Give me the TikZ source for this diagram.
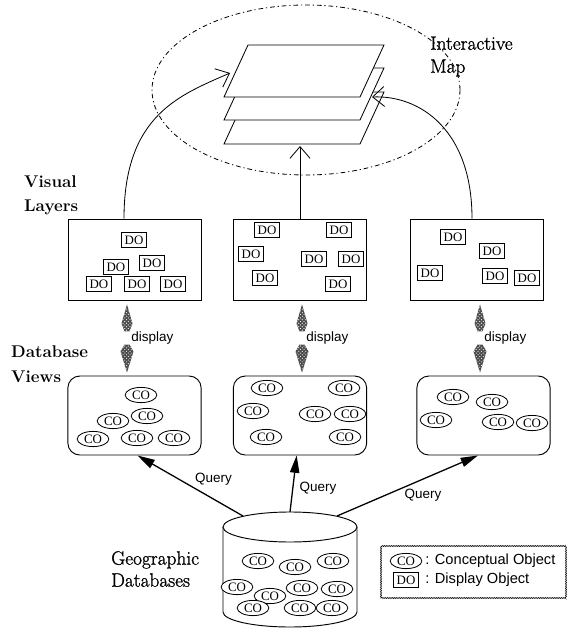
\documentclass[tikz,border=0pt]{standalone}
\usepackage{fontspec}
\newfontfamily\sansfnt{Liberation Sans}
\newfontfamily\serfnt{Liberation Serif}
\newfontfamily\medfnt{lmroman17-regular.otf}[FakeBold=1.2]
\usepackage{tikz}
\usetikzlibrary{shapes,arrows,arrows.meta,patterns,calc,decorations.pathmorphing}
\tikzstyle{layerbox} = [rectangle, draw, line width=0.8pt, minimum width=3.99cm, minimum height=2.43cm]
\tikzstyle{viewbox} = [rectangle, draw, rounded corners=0.36cm, line width=0.8pt, 
    minimum width=4.0cm, minimum height=2.37cm]
\tikzstyle{dobj} = [rectangle, draw, fill=white, line width=0.7pt, inner sep=1pt, 
    minimum width=22pt, minimum height=12.5pt, font=\serfnt\fontsize{11}{11}\selectfont]
\tikzstyle{cobj} = [ellipse, draw, fill=white, line width=0.7pt, inner sep=0pt, 
    minimum width=27pt, minimum height=13pt, font=\serfnt\fontsize{11}{11}\selectfont]
\tikzstyle{title} = [align=left, inner sep=0pt, font=\medfnt\fontsize{16.5}{19.6}\selectfont]
\tikzstyle{btitle} = [align=left, inner sep=0pt, font=\bfseries\fontsize{14.5}{21}\selectfont]
\tikzstyle{sheet} = [draw, fill=white, line width=0.7pt]
\tikzstyle{ring} = [draw, line width=0.7pt, dash pattern={on 4pt off 2.5pt on 1pt off 2.5pt}]
\tikzstyle{maparrow} = [draw, line width=0.7pt, -{Straight Barb[length=3.5mm,width=6mm]}]
\tikzstyle{line} = [draw, line width=1.1pt, -{Triangle[length=5.2mm,width=2.8mm]}]
\tikzstyle{disp} = [fill=black!70, postaction={pattern=crosshatch dots, pattern color=white}]
\tikzstyle{small} = [font=\sansfnt\fontsize{11.5}{12}\selectfont, inner sep=1pt]
\tikzstyle{legendframe} = [draw, line width=0.4pt, decorate, 
    decoration={zigzag, segment length=1.5pt, amplitude=0.5pt}]
\newcommand{\disparrow}[3]{%
    \coordinate (#1d) at ([xshift=#3]#1.south);
    \coordinate (#2d) at (#1d |- #2.north);
    \path[disp] ($(#1d)+(0,4)$) -- ++(5.5,19) -- ++(-3,8) -- ++(-5,0) -- ++(-3,-8) -- cycle;
    \path[disp] ($(#2d)+(-2.5,-31)$) -- ++(5,0) -- ++(4,7) -- ++(-6.5,21) -- ++(-6.5,-21) -- cycle;
    \node[small, anchor=west] (#1lab) at ($(#1d)!.5!(#2d)+(3,0)$) {display};
}

\begin{document}
\begin{tikzpicture}[x=0.03cm, y=-0.03cm, node distance=4.68cm, auto]
    \useasboundingbox (0,0) rectangle (574,629);

    \draw[ring] (306,90) ellipse [x radius=154, y radius=85];
    \foreach \dy in {47,23,0}
        \path[sheet] (224,97+\dy) -- (360,97+\dy) -- (384,45+\dy) -- (248,45+\dy) -- cycle;
    \coordinate (mapL) at (230,73);
    \coordinate (mapC) at (300,146);
    \coordinate (mapR) at (372,97);
    \node[title, anchor=west] (map) at (430,56.5) {Interactive\\Map};

    \node[layerbox] (vl1) at (134.5,259.5) {};
    \node[layerbox] (vl2) at (300,259.5) {};
    \node[layerbox] (vl3) at (476.5,259.5) {};
    \node[btitle, anchor=west] (vltitle) at (24,195.5) {Visual\\Layers};

    \node[viewbox, below of=vl1] (dv1) {};
    \node[viewbox, below of=vl2] (dv2) {};
    \node[viewbox, below of=vl3, xshift=0.21cm] (dv3) {};
    \node[btitle, anchor=west] (dvtitle) at (11,364) {Database\\Views};

    \foreach \x/\y [count=\i] in {134/240, 116/267, 152/263, 99/284, 137/284, 173/284}
        \node[dobj] (dl\i) at (\x,\y) {DO};
    \foreach \x/\y [count=\i] in {267/230, 339/230, 251/254, 314/259, 351/259, 265/278, 338/284}
        \node[dobj] (dm\i) at (\x,\y) {DO};
    \foreach \x/\y [count=\i] in {453/237, 492/251, 430/273, 495/276, 527/278}
        \node[dobj] (dr\i) at (\x,\y) {DO};

    \foreach \x/\y [count=\i] in {141/395, 113/421, 147/416, 93/439, 137/438, 174/438}
        \node[cobj] (cl\i) at (\x,\y) {CO};
    \foreach \x/\y [count=\i] in {267/388, 344/388, 253/411, 315/414, 350/414, 266/437, 345/437}
        \node[cobj] (cm\i) at (\x,\y) {CO};
    \foreach \x/\y [count=\i] in {453/397, 492/402, 436/420, 498/422, 532/423}
        \node[cobj] (cr\i) at (\x,\y) {CO};

    \draw[line width=0.8pt] (223,527) -- (223,612) arc[start angle=180, end angle=0, x radius=67, y radius=15] -- (357,527);
    \draw[line width=0.8pt] (290,527) ellipse [x radius=67, y radius=15];
    \coordinate (q1) at (243,516);
    \coordinate (q2) at (290,512);
    \coordinate (q3) at (337,516);
    \foreach \x/\y [count=\i] in {258/561, 295/567, 333/561, 237/587, 270/596, 302/588, 337/589, 253/608, 300/608, 332/608}
        \node[cobj] (cg\i) at (\x,\y) {CO};
    \node[title, anchor=west, font=\medfnt\fontsize{16.5}{18.8}\selectfont] (geotitle) at (111,569) {Geographic\\Databases};

    \path[maparrow] ([xshift=-0.315cm]vl1.north) .. controls (124,115) and (180,95) .. (mapL);
    \path[maparrow] (vl2.north) -- (mapC);
    \path[maparrow] ([xshift=-0.135cm]vl3.north) .. controls (472,130) and (420,95) .. (mapR);

    \disparrow{vl1}{dv1}{-0.225cm}
    \disparrow{vl2}{dv2}{0.06cm}
    \disparrow{vl3}{dv3}{0.105cm}

    \path[line] (q1) -- node[small, pos=.47, anchor=south west] (ql1) {Query} ([xshift=0.09cm]dv1.south);
    \path[line] (q2) -- node[small, pos=.42, anchor=west, xshift=0.15cm] (ql2) {Query} ([xshift=-0.1cm]dv2.south);
    \path[line] (q3) -- node[small, pos=.61, anchor=north, yshift=-0.25cm] (ql3) {Query} ([xshift=-0.165cm]dv3.south);

    \draw[legendframe] (381,546) rectangle (566,598);
    \node[cobj] (lco) at (406,561) {CO};
    \node[small, anchor=west, font=\sansfnt\fontsize{12.5}{12}\selectfont] (lcotxt) at (424,561) {: Conceptual Object};
    \node[dobj] (ldo) at (406,580) {DO};
    \node[small, anchor=west, font=\sansfnt\fontsize{12.5}{12}\selectfont] (ldotxt) at (424,580) {: Display Object};
\end{tikzpicture}
\end{document}
